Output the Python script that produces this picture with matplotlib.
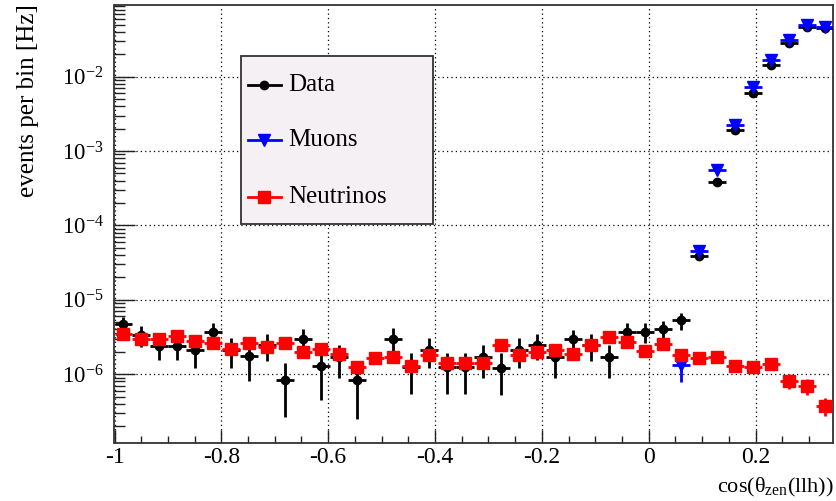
import numpy as np
import matplotlib
matplotlib.use("Agg")
import matplotlib.pyplot as plt
from matplotlib.ticker import FixedLocator, FixedFormatter, LogLocator, LogFormatterMathtext, NullFormatter
from matplotlib.lines import Line2D
from matplotlib.patches import Rectangle

# Binning of the reconstructed zenith (cos theta) distribution
COS_MIN, COS_MAX, N_BINS = -1.0, 0.346, 40

nan = float("nan")

# Rate per bin [Hz]
data_rate = [4.8e-6, 3.35e-6, 2.39e-6, 2.39e-6, 2.11e-6, 3.72e-6, 2.15e-6, 1.75e-6, 2.5e-6, 8.4e-7,
             2.94e-6, 1.3e-6, 1.7e-6, 8.4e-7, nan, 2.94e-6, 1.25e-6, 2.12e-6, 1.24e-6, 1.24e-6,
             1.7e-6, 1.22e-6, 2.12e-6, 2.5e-6, 1.69e-6, 2.94e-6, 2.5e-6, 1.69e-6, 3.72e-6, 3.72e-6,
             4.0e-6, 5.32e-6, 3.83e-5, 3.88e-4, 1.92e-3, 5.98e-3, 1.44e-2, 2.86e-2, 4.7e-2, 4.48e-2]
data_err = [1.1e-6, 1.05e-6, 0.85e-6, 0.85e-6, 0.9e-6, 1.1e-6, 0.92e-6, 0.95e-6, 1.0e-6, 5.7e-7,
            1.06e-6, 0.85e-6, 0.8e-6, 5.9e-7, nan, 1.2e-6, 0.7e-6, 0.92e-6, 0.7e-6, 0.7e-6,
            0.8e-6, 0.7e-6, 0.92e-6, 0.95e-6, 0.8e-6, 1.0e-6, 1.0e-6, 0.8e-6, 1.1e-6, 1.1e-6,
            1.2e-6, 1.4e-6, 3e-6, 1.2e-5, 3e-5, 6e-5, 1e-4, 1.4e-4, 1.8e-4, 1.8e-4]

muon_rate = [nan] * 31 + [1.32e-6, 4.47e-5, 5.57e-4, 2.24e-3, 7.21e-3, 1.67e-2, 3.11e-2, 4.95e-2, 4.7e-2]
muon_err = [nan] * 31 + [5.3e-7, 3e-6, 2e-5, 6e-5, 1.5e-4, 3e-4, 5e-4, 7e-4, 7e-4]

nu_rate = [3.43e-6, 2.94e-6, 2.94e-6, 3.25e-6, 2.81e-6, 2.59e-6, 2.16e-6, 2.59e-6, 2.34e-6, 2.59e-6,
           2.0e-6, 2.16e-6, 1.87e-6, 1.24e-6, 1.64e-6, 1.72e-6, 1.29e-6, 1.81e-6, 1.40e-6, 1.40e-6,
           1.40e-6, 2.47e-6, 1.81e-6, 2.0e-6, 2.11e-6, 1.87e-6, 2.47e-6, 3.13e-6, 2.73e-6, 2.05e-6,
           2.52e-6, 1.81e-6, 1.64e-6, 1.72e-6, 1.29e-6, 1.24e-6, 1.37e-6, 8.2e-7, 7.0e-7, 3.77e-7]
nu_err = [0.35e-6, 0.3e-6, 0.3e-6, 0.33e-6, 0.3e-6, 0.28e-6, 0.25e-6, 0.28e-6, 0.26e-6, 0.28e-6,
          0.24e-6, 0.25e-6, 0.22e-6, 0.17e-6, 0.2e-6, 0.21e-6, 0.17e-6, 0.22e-6, 0.18e-6, 0.18e-6,
          0.18e-6, 0.27e-6, 0.22e-6, 0.24e-6, 0.25e-6, 0.22e-6, 0.27e-6, 0.32e-6, 0.29e-6, 0.24e-6,
          0.28e-6, 0.22e-6, 0.2e-6, 0.21e-6, 0.17e-6, 0.17e-6, 0.18e-6, 0.19e-6, 0.17e-6, 0.1e-6]

x_ticks = [-1.0, -0.8, -0.6, -0.4, -0.2, 0.0, 0.2]
x_tick_labels = ["-1", "-0.8", "-0.6", "-0.4", "-0.2", "0", "0.2"]
y_range = (1.19e-7, 0.092)

series = [
    ("Data", data_rate, data_err, "o", "black", 6.0),
    ("Muons", muon_rate, muon_err, "v", "blue", 8.0),
    ("Neutrinos", nu_rate, nu_err, "s", "red", 8.0),
]

plt.rcParams.update({
    "font.family": ["Liberation Serif", "DejaVu Serif"],
    "mathtext.fontset": "custom",
    "mathtext.rm": "Liberation Serif",
    "mathtext.it": "Liberation Serif:italic",
    "mathtext.bf": "Liberation Serif:bold",
    "axes.unicode_minus": False,
})

W, H = 837, 501
fig = plt.figure(figsize=(W / 100, H / 100), dpi=100)
ax_left, ax_top, ax_right, ax_bottom = 114.5, 5.0, 833.5, 443.0
ax = fig.add_axes([ax_left / W, 1 - ax_bottom / H, (ax_right - ax_left) / W, (ax_bottom - ax_top) / H])

edges = np.linspace(COS_MIN, COS_MAX, N_BINS + 1)
centers = 0.5 * (edges[:-1] + edges[1:])
half_width = 0.5 * np.diff(edges)

for z, (name, rate, err, marker, color, ms) in enumerate(series):
    rate = np.asarray(rate, dtype=float)
    err = np.asarray(err, dtype=float)
    ok = np.isfinite(rate)
    ax.errorbar(centers[ok], rate[ok], xerr=half_width[ok], yerr=err[ok],
                fmt=marker, color=color, ms=ms, mec=color, mfc=color,
                elinewidth=2.0, capsize=0, zorder=3 + z)

ax.set_xlim(COS_MIN, COS_MAX)
ax.set_yscale("log")
ax.set_ylim(*y_range)

ax.xaxis.set_major_locator(FixedLocator(x_ticks))
ax.xaxis.set_major_formatter(FixedFormatter(x_tick_labels))
ax.xaxis.set_minor_locator(FixedLocator(np.arange(-1.0, COS_MAX, 0.05)))
ax.yaxis.set_major_locator(LogLocator(base=10, numticks=20))
ax.yaxis.set_major_formatter(LogFormatterMathtext())
ax.yaxis.set_minor_locator(LogLocator(base=10, subs=np.arange(2, 10), numticks=20))
ax.yaxis.set_minor_formatter(NullFormatter())

ax.tick_params(axis="both", which="both", direction="in", top=False, right=False,
               color="#222222", width=1.0)
ax.tick_params(axis="x", which="major", length=9.5, labelsize=17, pad=3)
ax.tick_params(axis="x", which="minor", length=4.7)
ax.tick_params(axis="y", which="major", length=15, labelsize=16.5, pad=8)
ax.tick_params(axis="y", which="minor", length=8)

ax.grid(True, which="major", color="black", linestyle=(0, (1, 2.5)), linewidth=0.9)
ax.set_axisbelow(True)
for sp in ax.spines.values():
    sp.set_color("#333333")
    sp.set_linewidth(1.3)

fig.text(28 / W, 1 - 4 / H, "events per bin [Hz]", rotation=90, ha="center", va="top", fontsize=18)
fig.text(834 / W, 1 - 487 / H, r"cos(θ$_{\mathrm{zen}}$(llh))", ha="right", va="center", fontsize=16)

# Legend box drawn in axes coordinates
def ax_x(px):
    return (px - ax_left) / (ax_right - ax_left)

def ax_y(py):
    return (ax_bottom - py) / (ax_bottom - ax_top)

box = Rectangle((ax_x(241), ax_y(224)), ax_x(433) - ax_x(241), ax_y(56) - ax_y(224),
                transform=ax.transAxes, facecolor="#f4f0f4", edgecolor="#333333",
                linewidth=1.3, zorder=10, clip_on=False)
ax.add_patch(box)
for (name, rate, err, marker, color, ms), py in zip(series, [85, 140, 196.5]):
    ax.add_line(Line2D([ax_x(248), ax_x(281)], [ax_y(py)] * 2, transform=ax.transAxes,
                       color=color, linewidth=2.0, zorder=11))
    ax.add_line(Line2D([ax_x(264.5)], [ax_y(py)], transform=ax.transAxes, marker=marker,
                       color=color, ms=ms, linestyle="none", zorder=12))
    ax.text(ax_x(288), ax_y(py), name, transform=ax.transAxes, ha="left", va="center",
            fontsize=18, zorder=12)

fig.savefig("out.png", dpi=100, facecolor="white")
